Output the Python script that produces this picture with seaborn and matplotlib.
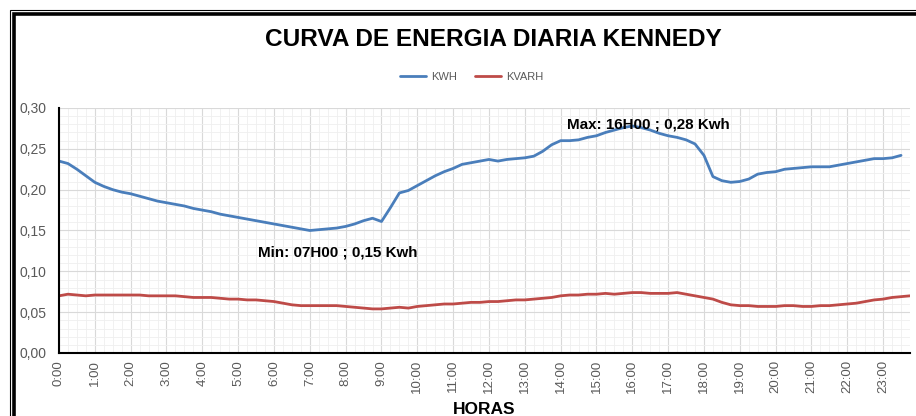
import numpy as np
import pandas as pd
import matplotlib
matplotlib.use("Agg")
import matplotlib.pyplot as plt
from matplotlib.ticker import MultipleLocator, FuncFormatter
from matplotlib.patches import Rectangle
import seaborn as sns

sns.set_theme(style="white")
plt.rcParams["font.family"] = ["Liberation Sans", "DejaVu Sans"]

# tick labels, one per hour (every 4th quarter-hour slot)
hour_labels = ["0:00", "1:00", "2:00", "3:00", "4:00", "5:00", "6:00", "7:00",
               "8:00", "9:00", "10:00", "11:00", "12:00", "13:00", "14:00", "15:00",
               "16:00", "17:00", "18:00", "19:00", "20:00", "21:00", "22:00", "23:00"]

# quarter-hour readings (last KWH slot is empty)
kwh = [
    0.235, 0.232, 0.225, 0.217,   # 0h
    0.209, 0.204, 0.200, 0.197,   # 1h
    0.195, 0.192, 0.189, 0.186,   # 2h
    0.184, 0.182, 0.180, 0.177,   # 3h
    0.175, 0.173, 0.170, 0.168,   # 4h
    0.166, 0.164, 0.162, 0.160,   # 5h
    0.158, 0.156, 0.154, 0.152,   # 6h
    0.150, 0.151, 0.152, 0.153,   # 7h
    0.155, 0.158, 0.162, 0.165,   # 8h
    0.161, 0.178, 0.196, 0.199,   # 9h
    0.205, 0.211, 0.217, 0.222,   # 10h
    0.226, 0.231, 0.233, 0.235,   # 11h
    0.237, 0.235, 0.237, 0.238,   # 12h
    0.239, 0.241, 0.247, 0.255,   # 13h
    0.260, 0.260, 0.261, 0.264,   # 14h
    0.266, 0.270, 0.273, 0.276,   # 15h
    0.278, 0.276, 0.273, 0.269,   # 16h
    0.266, 0.264, 0.261, 0.256,   # 17h
    0.242, 0.216, 0.211, 0.209,   # 18h
    0.210, 0.213, 0.219, 0.221,   # 19h
    0.222, 0.225, 0.226, 0.227,   # 20h
    0.228, 0.228, 0.228, 0.230,   # 21h
    0.232, 0.234, 0.236, 0.238,   # 22h
    0.238, 0.239, 0.242, np.nan,  # 23h
]
kvarh = [
    0.070, 0.072, 0.071, 0.070,   # 0h
    0.071, 0.071, 0.071, 0.071,   # 1h
    0.071, 0.071, 0.070, 0.070,   # 2h
    0.070, 0.070, 0.069, 0.068,   # 3h
    0.068, 0.068, 0.067, 0.066,   # 4h
    0.066, 0.065, 0.065, 0.064,   # 5h
    0.063, 0.061, 0.059, 0.058,   # 6h
    0.058, 0.058, 0.058, 0.058,   # 7h
    0.057, 0.056, 0.055, 0.054,   # 8h
    0.054, 0.055, 0.056, 0.055,   # 9h
    0.057, 0.058, 0.059, 0.060,   # 10h
    0.060, 0.061, 0.062, 0.062,   # 11h
    0.063, 0.063, 0.064, 0.065,   # 12h
    0.065, 0.066, 0.067, 0.068,   # 13h
    0.070, 0.071, 0.071, 0.072,   # 14h
    0.072, 0.073, 0.072, 0.073,   # 15h
    0.074, 0.074, 0.073, 0.073,   # 16h
    0.073, 0.074, 0.072, 0.070,   # 17h
    0.068, 0.066, 0.062, 0.059,   # 18h
    0.058, 0.058, 0.057, 0.057,   # 19h
    0.057, 0.058, 0.058, 0.057,   # 20h
    0.057, 0.058, 0.058, 0.059,   # 21h
    0.060, 0.061, 0.063, 0.065,   # 22h
    0.066, 0.068, 0.069, 0.070,   # 23h
]

series_names = ["KWH", "KVARH"]
colors = {"KWH": "#4a7ebb", "KVARH": "#be4b48"}

slots = np.arange(len(kvarh))
df = pd.DataFrame({"slot": slots, "KWH": kwh, "KVARH": kvarh})
long_df = df.melt(id_vars="slot", value_vars=series_names,
                  var_name="serie", value_name="valor").dropna()

W, H = 916, 416
fig = plt.figure(figsize=(W / 100, H / 100), dpi=100)
ax = fig.add_axes([59 / W, 63 / H, 851 / W, 245 / H])

sns.lineplot(data=long_df, x="slot", y="valor", hue="serie",
             hue_order=series_names, palette=colors, linewidth=2.0,
             ax=ax, legend=False)

ax.set_xlim(0, len(kvarh) - 1)
ax.set_ylim(0, 0.30)
ax.xaxis.set_minor_locator(MultipleLocator(1))
ax.yaxis.set_major_locator(MultipleLocator(0.05))
ax.yaxis.set_minor_locator(MultipleLocator(0.01))
ax.set_xticks(slots[::4])
ax.set_xticklabels(hour_labels, rotation=90)
ax.yaxis.set_major_formatter(FuncFormatter(lambda v, _: f"{v:.2f}".replace(".", ",")))
ax.tick_params(axis="both", which="both", length=0, labelsize=9.5, colors="#595959")
ax.tick_params(axis="x", pad=5)
ax.tick_params(axis="y", labelsize=10, pad=9)

ax.grid(which="major", color="#d9d9d9", linewidth=0.8)
ax.grid(which="minor", color="#efefef", linewidth=0.6)
ax.set_axisbelow(True)
for side in ["top", "right"]:
    ax.spines[side].set_visible(False)
for side in ["left", "bottom"]:
    ax.spines[side].set_color("black")
    ax.spines[side].set_linewidth(1.5)

ax.set_xlabel("HORAS", fontsize=12.5, fontweight="bold", color="black")
ax.xaxis.set_label_coords(0.5, (353 - 409) / 245)
ax.xaxis.label.set_va("center")
ax.set_ylabel("")

# max / min labels taken from the KWH series
kwh_s = pd.Series(kwh)
i_max, i_min = int(kwh_s.idxmax()), int(kwh_s.idxmin())
txt_max = f"Max: {i_max // 4:02d}H00 ; {kwh_s[i_max]:.2f} Kwh".replace(".", ",")
txt_min = f"Min: {i_min // 4:02d}H00 ; {kwh_s[i_min]:.2f} Kwh".replace(".", ",")
ax.annotate(txt_max, xy=(i_max, kwh_s[i_max]), xytext=(-47, 1),
            textcoords="offset points", ha="left", va="center",
            fontsize=10.9, fontweight="bold", color="black")
ax.annotate(txt_min, xy=(i_min, kwh_s[i_min]), xytext=(-37, -16),
            textcoords="offset points", ha="left", va="center",
            fontsize=10.9, fontweight="bold", color="black")

fig.text(493 / W, 1 - 40 / H, "CURVA DE ENERGIA DIARIA KENNEDY",
         ha="center", va="center", fontsize=17.6, fontweight="bold", color="black")

handles = [plt.Line2D([], [], color=colors[s], linewidth=2.0) for s in series_names]
fig.legend(handles, series_names, loc="center", bbox_to_anchor=(472 / W, 1 - 77 / H),
           ncol=2, frameon=False, fontsize=8, labelcolor="#595959",
           handlelength=2.3, handletextpad=0.5, columnspacing=1.6)

# chart frame (thick black border, cut by the right and bottom edges)
fig.patches.append(Rectangle((13.5 / W, -0.2), 1.2, 1.2 - 13.5 / H, transform=fig.transFigure,
                             fill=False, edgecolor="black", linewidth=2.6))
fig.patches.append(Rectangle((10 / W, -0.2), 1.2, 1.2 - 10 / H, transform=fig.transFigure,
                             fill=False, edgecolor="black", linewidth=0.8))

fig.savefig("out.png", dpi=100)
